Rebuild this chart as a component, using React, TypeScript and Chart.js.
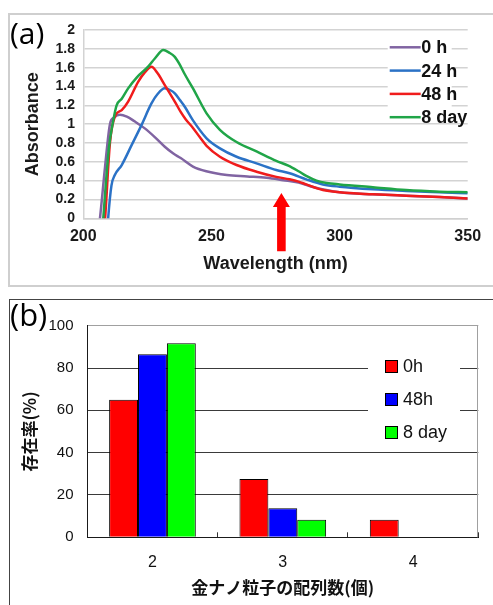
import React, { useEffect, useRef } from 'react';
import { Chart, registerables } from 'chart.js';

Chart.register(...registerables);

// ---------- Panel (a): absorbance spectra ----------
const WAVE_TICKS = [200, 250, 300, 350];
const ABS_TICKS = [0, 0.2, 0.4, 0.6, 0.8, 1, 1.2, 1.4, 1.6, 1.8, 2];
const SERIES_LABELS = ['0 h', '24 h', '48 h', '8 day'];
const SERIES_COLORS = ['#8064A2', '#2B72C6', '#F01C1C', '#20A548'];

const NM_0H = [205, 206.5, 208.5, 210.4, 212, 214.3, 217, 220, 224, 228, 231.8, 235, 238, 242.8, 248, 256, 264, 271.5, 278, 284, 290, 300, 313, 326, 339, 350];
const ABS_0H = [-0.3, 0, 0.55, 1.0, 1.07, 1.1, 1.08, 1.03, 0.955, 0.86, 0.76, 0.69, 0.64, 0.55, 0.5, 0.46, 0.445, 0.43, 0.405, 0.38, 0.33, 0.276, 0.255, 0.24, 0.226, 0.21];

const NM_24H = [209, 209.7, 211, 212.3, 215, 218.9, 222.7, 226.6, 229, 231.8, 234, 235.7, 237.7, 239.6, 242.8, 248.1, 253.3, 259.8, 267.6, 275.3, 280.5, 287, 293.5, 300, 313, 326, 339, 350];
const ABS_24H = [-0.3, 0, 0.35, 0.46, 0.566, 0.78, 0.99, 1.22, 1.32, 1.38, 1.36, 1.327, 1.256, 1.185, 1.04, 0.85, 0.743, 0.654, 0.584, 0.513, 0.478, 0.414, 0.36, 0.336, 0.308, 0.29, 0.276, 0.265];

const NM_48H = [207.5, 208.5, 210.4, 212.3, 215, 217.5, 221.4, 224, 226.6, 229, 231.8, 235.7, 238, 240, 242.8, 245.5, 248.1, 253.3, 259.8, 267.6, 275.3, 280.5, 284, 287, 293.5, 300, 313, 326, 339, 350];
const ABS_48H = [-0.3, 0, 0.8, 1.08, 1.15, 1.24, 1.45, 1.55, 1.61, 1.54, 1.415, 1.24, 1.13, 1.05, 0.96, 0.86, 0.77, 0.654, 0.566, 0.495, 0.44, 0.414, 0.39, 0.36, 0.3, 0.276, 0.255, 0.24, 0.226, 0.21];

const NM_8DAY = [207, 207.8, 210, 211.7, 213, 215, 217.5, 221, 225.3, 228, 231.2, 233.5, 235.7, 237.7, 239.6, 242.8, 248.1, 253.3, 259.8, 267.6, 275.3, 280, 284, 287, 291, 295, 300, 313, 326, 339, 350];
const ABS_8DAY = [-0.3, 0, 0.75, 1.04, 1.2, 1.27, 1.38, 1.5, 1.61, 1.7, 1.787, 1.76, 1.715, 1.63, 1.53, 1.38, 1.115, 0.94, 0.81, 0.71, 0.61, 0.56, 0.5, 0.45, 0.4, 0.375, 0.36, 0.33, 0.3, 0.283, 0.276];

const ARROW_NM = 277.3;
const ARROW_TIP = 0.27;
const ARROW_HEAD_BASE = 0.12;
const ARROW_TAIL = -0.35;

// ---------- Panel (b): bar chart ----------
const COUNT_CATEGORIES = ['2', '3', '4'];
const BAR_LABELS = ['0h', '48h', '8 day'];
const BAR_COLORS = ['#FF0000', '#0000FF', '#00FF00'];
const BAR_0H = [65, 27.5, 8.3];
const BAR_48H = [86.5, 13.7, 0];
const BAR_8DAY = [91.7, 8.3, 0];
const RATE_TICKS = [0, 20, 40, 60, 80, 100];

const LATIN = '"Liberation Sans", Arial, sans-serif';
const CJK = '"Noto Sans CJK JP", sans-serif';

const pairs = (xs: number[], ys: number[]) => xs.map((x, i) => ({ x, y: ys[i] }));

const legendAPlugin = {
  id: 'legendA',
  afterDatasetsDraw(chart: any) {
    const { ctx, chartArea } = chart;
    ctx.save();
    ctx.fillStyle = '#ffffff';
    ctx.fillRect(chartArea.right - 80, chartArea.top + 7, 64, 84);
    SERIES_LABELS.forEach((label, i) => {
      const y = chartArea.top + 17.3 + i * 23.3;
      ctx.strokeStyle = SERIES_COLORS[i];
      ctx.lineWidth = 2.5;
      ctx.beginPath();
      ctx.moveTo(chartArea.right - 78, y);
      ctx.lineTo(chartArea.right - 47, y);
      ctx.stroke();
      ctx.fillStyle = '#111';
      ctx.font = `bold 18px ${LATIN}`;
      ctx.textBaseline = 'middle';
      ctx.textAlign = 'left';
      ctx.fillText(label, chartArea.right - 46.5, y + 1);
    });
    ctx.restore();
  },
};

const arrowPlugin = {
  id: 'arrowA',
  afterDraw(chart: any) {
    const { ctx } = chart;
    const xs = chart.scales.x;
    const ys = chart.scales.y;
    const cx = xs.getPixelForValue(ARROW_NM);
    const tip = ys.getPixelForValue(ARROW_TIP);
    const base = ys.getPixelForValue(ARROW_HEAD_BASE);
    const tail = ys.getPixelForValue(ARROW_TAIL);
    ctx.save();
    ctx.fillStyle = '#FF0000';
    ctx.beginPath();
    ctx.moveTo(cx, tip);
    ctx.lineTo(cx + 8.5, base);
    ctx.lineTo(cx + 4.3, base);
    ctx.lineTo(cx + 4.3, tail);
    ctx.lineTo(cx - 4.3, tail);
    ctx.lineTo(cx - 4.3, base);
    ctx.lineTo(cx - 8.5, base);
    ctx.closePath();
    ctx.fill();
    ctx.restore();
  },
};

const legendBPlugin = {
  id: 'legendB',
  beforeDatasetsDraw(chart: any) {
    const { ctx, chartArea } = chart;
    ctx.save();
    ctx.strokeStyle = '#a0a0a0';
    ctx.lineWidth = 1;
    ctx.beginPath();
    ctx.moveTo(Math.round(chartArea.right) - 0.5, chartArea.top);
    ctx.lineTo(Math.round(chartArea.right) - 0.5, chartArea.bottom);
    ctx.stroke();
    ctx.restore();
  },
  afterDatasetsDraw(chart: any) {
    const { ctx, chartArea } = chart;
    ctx.save();
    ctx.fillStyle = '#ffffff';
    ctx.fillRect(chartArea.right - 110.3, chartArea.top + 19, 92, 102);
    BAR_LABELS.forEach((label, i) => {
      const y = chartArea.top + 40 + i * 33.3;
      const x0 = Math.round(chartArea.right - 93.3);
      ctx.fillStyle = BAR_COLORS[i];
      ctx.fillRect(x0, Math.round(y - 6), 13, 13);
      ctx.strokeStyle = '#000';
      ctx.lineWidth = 1;
      ctx.strokeRect(x0 + 0.5, Math.round(y - 6) + 0.5, 12, 12);
      ctx.fillStyle = '#111';
      ctx.font = `18px ${LATIN}`;
      ctx.textBaseline = 'middle';
      ctx.textAlign = 'left';
      ctx.fillText(label, chartArea.right - 75.3, y + 1);
    });
    ctx.restore();
  },
};

export default function App() {
  const refA = useRef<HTMLCanvasElement>(null);
  const refB = useRef<HTMLCanvasElement>(null);

  useEffect(() => {
    const seriesX = [NM_0H, NM_24H, NM_48H, NM_8DAY];
    const seriesY = [ABS_0H, ABS_24H, ABS_48H, ABS_8DAY];
    const chartA = new Chart(refA.current as HTMLCanvasElement, {
      type: 'line',
      data: {
        datasets: SERIES_LABELS.map((label, i) => ({
          label,
          data: pairs(seriesX[i], seriesY[i]),
          borderColor: SERIES_COLORS[i],
          backgroundColor: SERIES_COLORS[i],
          borderWidth: 2.5,
          pointRadius: 0,
          cubicInterpolationMode: 'monotone' as const,
          fill: false,
          order: 4 - i,
        })),
      },
      options: {
        responsive: false,
        animation: false,
        layout: { padding: { left: 10, top: 30, right: 25.3, bottom: 0 } },
        plugins: { legend: { display: false }, tooltip: { enabled: false } },
        scales: {
          x: {
            type: 'linear',
            min: 200,
            max: 350,
            afterBuildTicks: (s: any) => {
              s.ticks = WAVE_TICKS.map((v) => ({ value: v }));
            },
            grid: { display: false, drawTicks: false },
            border: { display: true, color: '#d0d0d0', width: 1.5 },
            ticks: {
              autoSkip: false,
              maxRotation: 0,
              padding: 9.1,
              color: '#1a1a1a',
              font: { family: LATIN, size: 16, weight: 'bold' },
              callback: (v: any) => String(v),
            },
            title: {
              display: true,
              text: 'Wavelength (nm)',
              color: '#1a1a1a',
              font: { family: LATIN, size: 18, weight: 'bold' },
              padding: { top: 0, bottom: 15.2 },
            },
            afterFit: (s: any) => {
              s.height = 71.7;
            },
          },
          y: {
            type: 'linear',
            min: 0,
            max: 2,
            afterBuildTicks: (s: any) => {
              s.ticks = ABS_TICKS.map((v) => ({ value: v }));
            },
            grid: { color: '#d3d3d3', lineWidth: 1.5, drawTicks: false },
            border: { display: true, color: '#d3d3d3', width: 1.5 },
            ticks: {
              autoSkip: false,
              padding: 8.3,
              color: '#1a1a1a',
              font: { family: LATIN, size: 14, weight: 'bold' },
              callback: (v: any) => String(Math.round(Number(v) * 10) / 10),
            },
            title: {
              display: true,
              text: 'Absorbance',
              color: '#1a1a1a',
              font: { family: LATIN, size: 18, weight: 'bold' },
              padding: { top: 12.2, bottom: 0 },
            },
            afterFit: (s: any) => {
              s.width = 73.3;
            },
          },
        },
      } as any,
      plugins: [legendAPlugin, arrowPlugin],
    });

    const barValues = [BAR_0H, BAR_48H, BAR_8DAY];
    const chartB = new Chart(refB.current as HTMLCanvasElement, {
      type: 'bar',
      data: {
        labels: COUNT_CATEGORIES,
        datasets: BAR_LABELS.map((label, i) => ({
          label,
          data: barValues[i],
          backgroundColor: BAR_COLORS[i],
          borderColor: '#000',
          borderWidth: 1,
          categoryPercentage: 0.665,
          barPercentage: 1,
        })),
      },
      options: {
        responsive: false,
        animation: false,
        layout: { padding: { left: 10, top: 35.7, right: 14.7, bottom: 0 } },
        plugins: { legend: { display: false }, tooltip: { enabled: false } },
        scales: {
          x: {
            grid: {
              display: true,
              drawOnChartArea: false,
              drawTicks: true,
              tickLength: -5,
              color: '#333',
              offset: true,
            },
            border: { display: true, color: '#1a1a1a', width: 1 },
            ticks: {
              padding: 21,
              color: '#111',
              font: { family: LATIN, size: 16 },
            },
            title: {
              display: true,
              text: '金ナノ粒子の配列数(個)',
              color: '#111',
              font: { family: CJK, size: 17, weight: 'bold' },
              padding: { top: 0, bottom: 6.8 },
            },
            afterFit: (s: any) => {
              s.height = 67.7;
            },
          },
          y: {
            type: 'linear',
            min: 0,
            max: 100,
            afterBuildTicks: (s: any) => {
              s.ticks = RATE_TICKS.map((v) => ({ value: v }));
            },
            grid: {
              color: (c: any) => (c.tick && c.tick.value === 100 ? '#a0a0a0' : '#3a3a3a'),
              lineWidth: 1,
              drawTicks: false,
            },
            border: { display: true, color: '#1a1a1a', width: 1 },
            ticks: {
              autoSkip: false,
              padding: 13.8,
              color: '#111',
              font: { family: LATIN, size: 15 },
              callback: (v: any) => String(v),
            },
            title: {
              display: true,
              text: '存在率(%)',
              color: '#111',
              font: { family: CJK, size: 17, weight: 'bold' },
              padding: { top: 9.8, bottom: 0 },
            },
            afterFit: (s: any) => {
              s.width = 77.3;
            },
          },
        },
      } as any,
      plugins: [legendBPlugin],
    });

    return () => {
      chartA.destroy();
      chartB.destroy();
    };
  }, []);

  return (
    <div
      style={{
        position: 'fixed',
        left: 0,
        top: 0,
        width: 493,
        height: 605,
        background: '#fff',
        overflow: 'hidden',
      }}
    >
      <div
        style={{
          position: 'absolute',
          left: 8,
          top: 13,
          width: 500,
          height: 270,
          border: '2px solid #cfcfcf',
        }}
      />
      <div
        style={{
          position: 'absolute',
          left: 9,
          top: 299,
          width: 500,
          height: 320,
          borderTop: '1px solid #444',
          borderLeft: '1px solid #444',
        }}
      />
      <canvas
        ref={refA}
        width={493}
        height={290}
        style={{ position: 'absolute', left: 0, top: 0, width: 493, height: 290 }}
      />
      <canvas
        ref={refB}
        width={493}
        height={315}
        style={{ position: 'absolute', left: 0, top: 290, width: 493, height: 315 }}
      />
      <div
        style={{
          position: 'absolute',
          left: 10,
          top: 18,
          fontFamily: '"Open Sans", sans-serif',
          fontSize: 30,
          lineHeight: '30px',
          color: '#000',
        }}
      >
        (a)
      </div>
      <div
        style={{
          position: 'absolute',
          left: 10,
          top: 299,
          fontFamily: '"Open Sans", sans-serif',
          fontSize: 31,
          lineHeight: '31px',
          color: '#000',
        }}
      >
        (b)
      </div>
    </div>
  );
}
